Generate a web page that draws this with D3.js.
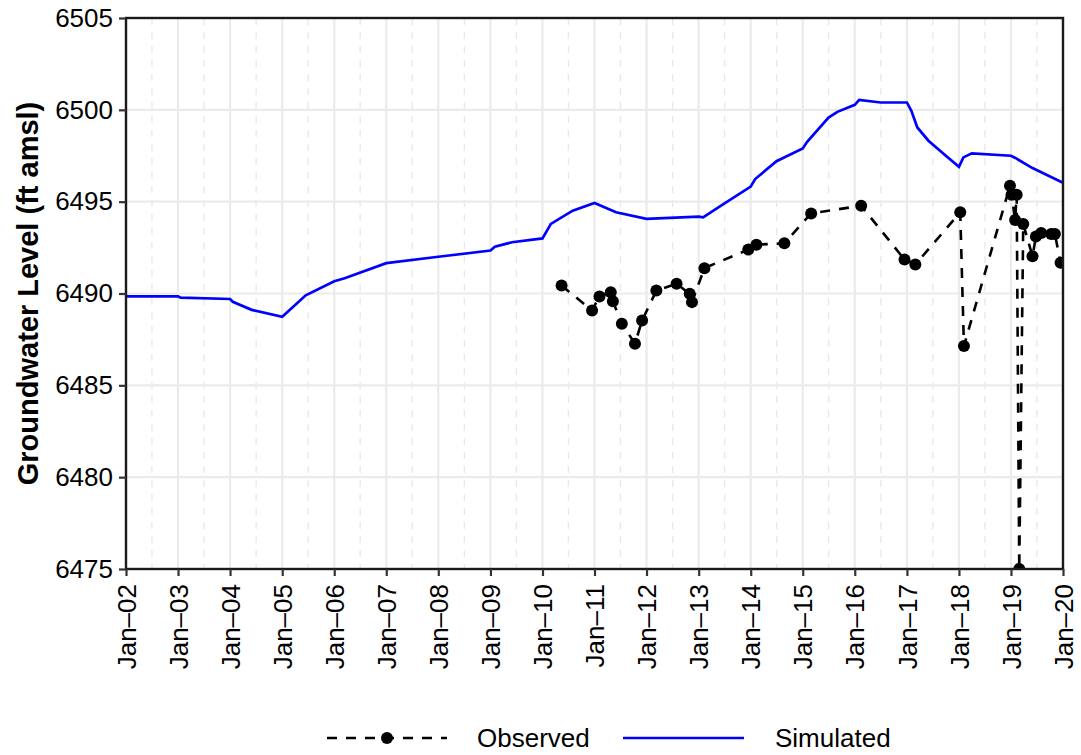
<!DOCTYPE html>
<html>
<head>
<meta charset="utf-8">
<script src="https://cdn.jsdelivr.net/npm/d3@7"></script>
<style>
  body { margin: 0; background: #fff; }
  text { font-family: "Liberation Sans", Arial, sans-serif; }
</style>
</head>
<body>
<svg id="chart" width="1081" height="755"></svg>
<script>
// simulated series
var simDates = ["2002-01-01","2003-01-01","2003-01-20","2004-01-01","2004-01-20","2004-06-01",
  "2005-01-01","2005-06-15","2006-01-01","2006-03-15","2007-01-01","2008-01-01","2009-01-01",
  "2009-02-01","2009-06-01","2010-01-01","2010-03-01","2010-08-01","2011-01-01","2011-06-01",
  "2012-01-01","2013-01-01","2013-02-01","2013-06-15","2014-01-01","2014-02-01","2014-07-01",
  "2015-01-01","2015-02-01","2015-07-01","2015-09-01","2016-01-01","2016-02-01","2016-07-01",
  "2017-01-01","2017-02-01","2017-03-15","2017-06-01","2017-10-01","2018-01-01","2018-02-01",
  "2018-04-01","2019-01-01","2019-02-01","2019-06-01","2020-01-01"];
var simValues = [6489.84,6489.84,6489.77,6489.70,6489.55,6489.11,
  6488.73,6489.90,6490.67,6490.83,6491.65,6492.00,6492.34,
  6492.55,6492.79,6493.00,6493.79,6494.51,6494.93,6494.42,
  6494.06,6494.18,6494.15,6494.82,6495.82,6496.23,6497.20,
  6497.90,6498.26,6499.58,6499.89,6500.27,6500.54,6500.40,
  6500.40,6499.95,6499.04,6498.32,6497.50,6496.90,6497.41,
  6497.63,6497.50,6497.38,6496.83,6496.03];

// observed series
var obsDates = ["2010-05-15","2010-12-15","2011-02-05","2011-04-25","2011-05-10","2011-07-12",
  "2011-10-12","2011-12-01","2012-03-10","2012-07-30","2012-10-30","2012-11-15","2013-02-10",
  "2013-12-15","2014-02-10","2014-08-25","2015-03-01","2016-02-15","2016-12-15","2017-03-01",
  "2018-01-10","2018-02-05","2018-12-25","2019-01-05","2019-01-30","2019-02-10","2019-02-28",
  "2019-03-28","2019-06-01","2019-06-25","2019-08-01","2019-10-10","2019-11-05","2019-12-15"];
var obsValues = [6490.43,6489.08,6489.84,6490.07,6489.58,6488.35,
  6487.27,6488.53,6490.16,6490.53,6489.98,6489.53,6491.38,
  6492.39,6492.66,6492.73,6494.36,6494.78,6491.85,6491.58,
  6494.42,6487.14,6495.87,6495.38,6494.00,6495.38,6475.00,
  6493.79,6492.03,6493.10,6493.30,6493.24,6493.24,6491.67];

var yTicks = [6475, 6480, 6485, 6490, 6495, 6500, 6505];
var legendLabels = ["Observed", "Simulated"];

var parse = d3.timeParse("%Y-%m-%d");
var fmt = d3.timeFormat("%b\u2013%y");
var sim = simDates.map(function(d, i){ return {date: parse(d), value: simValues[i]}; });
var obs = obsDates.map(function(d, i){ return {date: parse(d), value: obsValues[i]}; });

var margin = {left: 126, top: 18, right: 18, bottom: 186};
var W = 1081, H = 755;
var pw = W - margin.left - margin.right;
var ph = H - margin.top - margin.bottom;

var svg = d3.select("#chart");

var x = d3.scaleTime()
  .domain([new Date(2002, 0, 1), new Date(2020, 0, 1)])
  .range([0, pw]);
var y = d3.scaleLinear().domain([6475, 6505]).range([ph, 0]);

var g = svg.append("g")
  .attr("transform", "translate(" + margin.left + "," + margin.top + ")");

g.append("clipPath").attr("id", "clip")
  .append("rect").attr("width", pw).attr("height", ph);

var years = d3.timeYear.range(new Date(2002, 0, 1), new Date(2020, 0, 2));
var mids = d3.timeYear.range(new Date(2002, 0, 1), new Date(2020, 0, 1))
  .map(function(d){ return new Date(d.getFullYear(), 6, 2); });

// minor vertical grid (dashed)
g.selectAll(".minor").data(mids).enter().append("line")
  .attr("x1", function(d){ return x(d); }).attr("x2", function(d){ return x(d); })
  .attr("y1", 0).attr("y2", ph)
  .attr("stroke", "#e8e8e8").attr("stroke-width", 1.3)
  .attr("stroke-dasharray", "7,7");

// major grid
g.selectAll(".vmaj").data(years).enter().append("line")
  .attr("x1", function(d){ return x(d); }).attr("x2", function(d){ return x(d); })
  .attr("y1", 0).attr("y2", ph)
  .attr("stroke", "#ebebeb").attr("stroke-width", 2.2);
g.selectAll(".hmaj").data(yTicks).enter().append("line")
  .attr("x1", 0).attr("x2", pw)
  .attr("y1", function(d){ return y(d); }).attr("y2", function(d){ return y(d); })
  .attr("stroke", "#ebebeb").attr("stroke-width", 2.2);

var plot = g.append("g").attr("clip-path", "url(#clip)");

var line = d3.line()
  .x(function(d){ return x(d.date); })
  .y(function(d){ return y(d.value); });

plot.append("path").datum(sim)
  .attr("d", line)
  .attr("fill", "none").attr("stroke", "#0000ff").attr("stroke-width", 2.7);

plot.append("path").datum(obs)
  .attr("d", line)
  .attr("fill", "none").attr("stroke", "#000").attr("stroke-width", 2.6)
  .attr("stroke-dasharray", "10,9");

plot.selectAll(".pt").data(obs).enter().append("circle")
  .attr("cx", function(d){ return x(d.date); })
  .attr("cy", function(d){ return y(d.value); })
  .attr("r", 6).attr("fill", "#000");

// panel border
g.append("rect").attr("width", pw).attr("height", ph)
  .attr("fill", "none").attr("stroke", "#1a1a1a").attr("stroke-width", 2.4);

// axes
var yAxis = g.append("g")
  .call(d3.axisLeft(y).tickValues(yTicks).tickFormat(d3.format("d")).tickSize(7).tickPadding(6));
var xAxis = g.append("g").attr("transform", "translate(0," + ph + ")")
  .call(d3.axisBottom(x).tickValues(years).tickFormat(fmt).tickSize(7).tickPadding(6));

[yAxis, xAxis].forEach(function(a){
  a.select(".domain").remove();
  a.selectAll(".tick line").attr("stroke", "#333").attr("stroke-width", 2.2);
  a.selectAll("text").attr("fill", "#000").style("font-size", "26px");
});

xAxis.selectAll("text")
  .attr("transform", "rotate(-90)")
  .attr("text-anchor", "end")
  .attr("x", -15).attr("y", 0).attr("dy", "0.35em");

// y title
svg.append("text")
  .attr("transform", "translate(38," + (margin.top + ph / 2) + ") rotate(-90)")
  .attr("text-anchor", "middle")
  .style("font-size", "29px").style("font-weight", "bold")
  .text("Groundwater Level (ft amsl)");

// legend
var leg = svg.append("g").attr("transform", "translate(0,738)");
var keyX = [327, 623];
var textX = [477, 775];

leg.append("line").attr("x1", keyX[0]).attr("x2", keyX[0] + 120)
  .attr("stroke", "#000").attr("stroke-width", 2.6).attr("stroke-dasharray", "10,9");
leg.append("circle").attr("cx", keyX[0] + 60).attr("cy", 0).attr("r", 6).attr("fill", "#000");
leg.append("line").attr("x1", keyX[1]).attr("x2", keyX[1] + 121)
  .attr("stroke", "#0000ff").attr("stroke-width", 2.7);

leg.selectAll(".lt").data(legendLabels).enter().append("text")
  .attr("x", function(d, i){ return textX[i]; })
  .attr("dy", "0.35em")
  .style("font-size", "26px")
  .text(function(d){ return d; });
</script>
</body>
</html>
